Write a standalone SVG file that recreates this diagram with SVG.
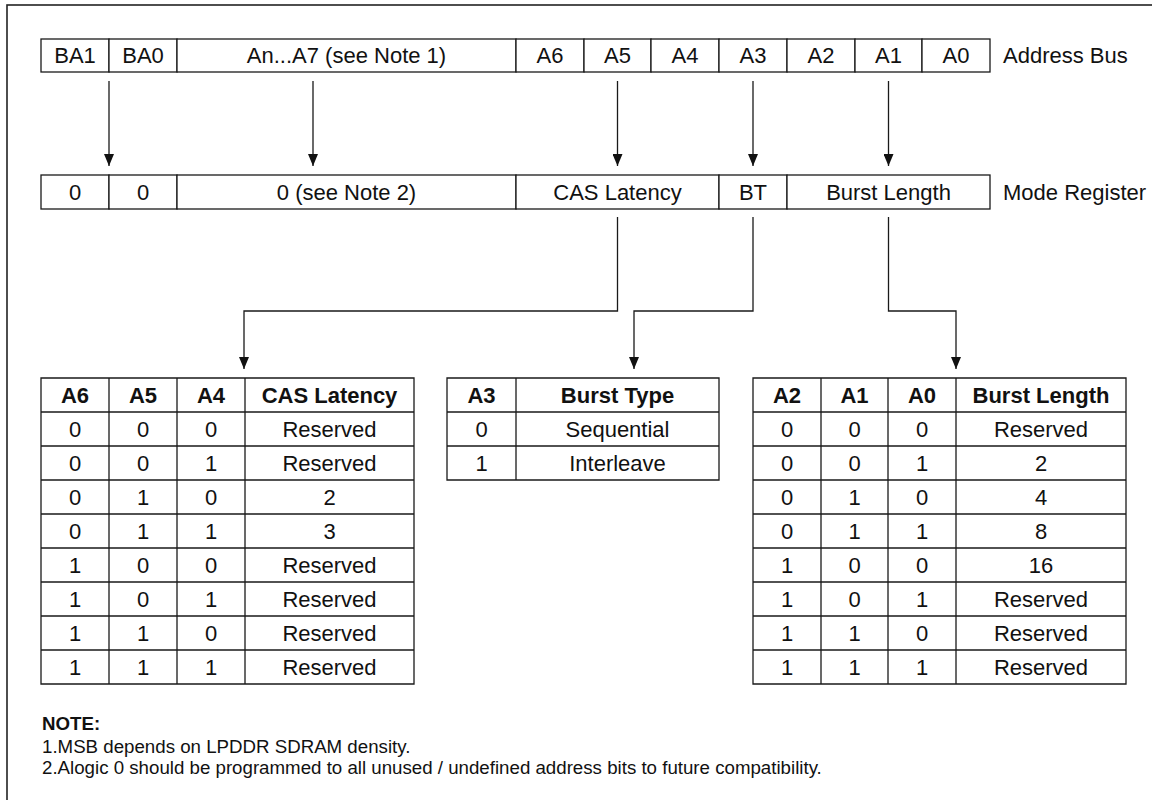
<svg xmlns="http://www.w3.org/2000/svg" width="1152" height="800" viewBox="0 0 1152 800">
<defs>
<style>
.t{font-family:"Liberation Sans",Arial,Helvetica,sans-serif;font-size:22px;fill:#111;text-anchor:middle}
.b{font-weight:bold}
.l{text-anchor:start}
.c{fill:#fff;stroke:#1a1a1a;stroke-width:1.3}
.ln{stroke:#1a1a1a;stroke-width:1.3;fill:none}
.n{font-family:"Liberation Sans",Arial,Helvetica,sans-serif;font-size:18.7px;fill:#111}
</style>
<marker id="ah" markerUnits="userSpaceOnUse" markerWidth="12" markerHeight="10" refX="12" refY="5" orient="auto" viewBox="0 0 12 10">
<path d="M0,0 L12,5 L0,10 z" fill="#111"/>
</marker>
</defs>
<rect x="0" y="0" width="1152" height="800" fill="#fff"/>
<rect x="7" y="5" width="1170" height="820" fill="none" stroke="#222" stroke-width="1.6"/>

<g id="address-bus">
<rect class="c" x="41" y="39" width="68" height="33"/>
<rect class="c" x="109" y="39" width="68" height="33"/>
<rect class="c" x="177" y="39" width="339" height="33"/>
<rect class="c" x="516" y="39" width="68" height="33"/>
<rect class="c" x="584" y="39" width="67" height="33"/>
<rect class="c" x="651" y="39" width="68" height="33"/>
<rect class="c" x="719" y="39" width="68" height="33"/>
<rect class="c" x="787" y="39" width="68" height="33"/>
<rect class="c" x="855" y="39" width="67" height="33"/>
<rect class="c" x="922" y="39" width="68" height="33"/>
<text class="t" x="75" y="63">BA1</text>
<text class="t" x="143" y="63">BA0</text>
<text class="t" x="346.5" y="63">An...A7 (see Note 1)</text>
<text class="t" x="550" y="63">A6</text>
<text class="t" x="617.5" y="63">A5</text>
<text class="t" x="685" y="63">A4</text>
<text class="t" x="753" y="63">A3</text>
<text class="t" x="821" y="63">A2</text>
<text class="t" x="888.5" y="63">A1</text>
<text class="t" x="956" y="63">A0</text>
<text class="t l" x="1003" y="63">Address Bus</text>
</g>

<g id="mode-register">
<rect class="c" x="41" y="175" width="68" height="34"/>
<rect class="c" x="109" y="175" width="68" height="34"/>
<rect class="c" x="177" y="175" width="339" height="34"/>
<rect class="c" x="516" y="175" width="203" height="34"/>
<rect class="c" x="719" y="175" width="68" height="34"/>
<rect class="c" x="787" y="175" width="203" height="34"/>
<text class="t" x="75" y="200">0</text>
<text class="t" x="143" y="200">0</text>
<text class="t" x="346.5" y="200">0 (see Note 2)</text>
<text class="t" x="617.5" y="200">CAS Latency</text>
<text class="t" x="753" y="200">BT</text>
<text class="t" x="888.5" y="200">Burst Length</text>
<text class="t l" x="1003" y="200">Mode Register</text>
</g>

<g id="connectors">
<path class="ln" d="M109,81 V166" marker-end="url(#ah)"/>
<path class="ln" d="M313,81 V166" marker-end="url(#ah)"/>
<path class="ln" d="M617.5,81 V166" marker-end="url(#ah)"/>
<path class="ln" d="M753,81 V166" marker-end="url(#ah)"/>
<path class="ln" d="M888.5,81 V166" marker-end="url(#ah)"/>
<path class="ln" d="M617.5,217 V311 H244 V369" marker-end="url(#ah)"/>
<path class="ln" d="M753,217 V311 H634 V369" marker-end="url(#ah)"/>
<path class="ln" d="M888.5,217 V311 H956 V369" marker-end="url(#ah)"/>
</g>

<g id="cas-latency-table">
<path class="ln" d="M41,378 H414 V684 H41 Z M109,378 V684 M177,378 V684 M245,378 V684 M41,412 H414 M41,446 H414 M41,480 H414 M41,514 H414 M41,548 H414 M41,582 H414 M41,616 H414 M41,650 H414"/>
<g class="t b"><text x="75" y="403">A6</text><text x="143" y="403">A5</text><text x="211" y="403">A4</text><text x="329.5" y="403">CAS Latency</text></g>
<g class="t">
<text x="75" y="437">0</text><text x="143" y="437">0</text><text x="211" y="437">0</text><text x="329.5" y="437">Reserved</text>
<text x="75" y="471">0</text><text x="143" y="471">0</text><text x="211" y="471">1</text><text x="329.5" y="471">Reserved</text>
<text x="75" y="505">0</text><text x="143" y="505">1</text><text x="211" y="505">0</text><text x="329.5" y="505">2</text>
<text x="75" y="539">0</text><text x="143" y="539">1</text><text x="211" y="539">1</text><text x="329.5" y="539">3</text>
<text x="75" y="573">1</text><text x="143" y="573">0</text><text x="211" y="573">0</text><text x="329.5" y="573">Reserved</text>
<text x="75" y="607">1</text><text x="143" y="607">0</text><text x="211" y="607">1</text><text x="329.5" y="607">Reserved</text>
<text x="75" y="641">1</text><text x="143" y="641">1</text><text x="211" y="641">0</text><text x="329.5" y="641">Reserved</text>
<text x="75" y="675">1</text><text x="143" y="675">1</text><text x="211" y="675">1</text><text x="329.5" y="675">Reserved</text>
</g>
</g>

<g id="burst-type-table">
<path class="ln" d="M447,378 H719 V480 H447 Z M516,378 V480 M447,412 H719 M447,446 H719"/>
<g class="t b"><text x="481.5" y="403">A3</text><text x="617.5" y="403">Burst Type</text></g>
<g class="t">
<text x="481.5" y="437">0</text><text x="617.5" y="437">Sequential</text>
<text x="481.5" y="471">1</text><text x="617.5" y="471">Interleave</text>
</g>
</g>

<g id="burst-length-table">
<path class="ln" d="M753,378 H1126 V684 H753 Z M821,378 V684 M888,378 V684 M956,378 V684 M753,412 H1126 M753,446 H1126 M753,480 H1126 M753,514 H1126 M753,548 H1126 M753,582 H1126 M753,616 H1126 M753,650 H1126"/>
<g class="t b"><text x="787" y="403">A2</text><text x="854.5" y="403">A1</text><text x="922" y="403">A0</text><text x="1041" y="403">Burst Length</text></g>
<g class="t">
<text x="787" y="437">0</text><text x="854.5" y="437">0</text><text x="922" y="437">0</text><text x="1041" y="437">Reserved</text>
<text x="787" y="471">0</text><text x="854.5" y="471">0</text><text x="922" y="471">1</text><text x="1041" y="471">2</text>
<text x="787" y="505">0</text><text x="854.5" y="505">1</text><text x="922" y="505">0</text><text x="1041" y="505">4</text>
<text x="787" y="539">0</text><text x="854.5" y="539">1</text><text x="922" y="539">1</text><text x="1041" y="539">8</text>
<text x="787" y="573">1</text><text x="854.5" y="573">0</text><text x="922" y="573">0</text><text x="1041" y="573">16</text>
<text x="787" y="607">1</text><text x="854.5" y="607">0</text><text x="922" y="607">1</text><text x="1041" y="607">Reserved</text>
<text x="787" y="641">1</text><text x="854.5" y="641">1</text><text x="922" y="641">0</text><text x="1041" y="641">Reserved</text>
<text x="787" y="675">1</text><text x="854.5" y="675">1</text><text x="922" y="675">1</text><text x="1041" y="675">Reserved</text>
</g>
</g>

<g id="notes">
<text class="n" x="42" y="730" font-weight="bold">NOTE:</text>
<text class="n" x="42" y="753">1.MSB depends on LPDDR SDRAM density.</text>
<text class="n" x="42" y="774">2.Alogic 0 should be programmed to all unused / undefined address bits to future compatibility.</text>
</g>
</svg>
